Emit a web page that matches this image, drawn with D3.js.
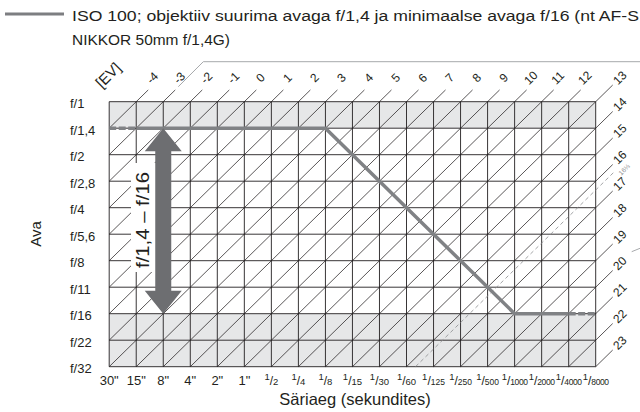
<!DOCTYPE html>
<html><head><meta charset="utf-8">
<script src="https://cdn.jsdelivr.net/npm/d3@7"></script>
<style>
html,body{margin:0;padding:0;background:#fff;}
svg{display:block;}
text{font-family:"Liberation Sans",Arial,sans-serif;fill:#231f20;}
</style></head>
<body>
<svg id="chart" width="640" height="412"></svg>
<script>
// ---- data ----
const shutterLabels = ['30"','15"','8"','4"','2"','1"','1/2','1/4','1/8','1/15','1/30','1/60','1/125','1/250','1/500','1/1000','1/2000','1/4000','1/8000'];
const apertureLabels = ['f/1','f/1,4','f/2','f/2,8','f/4','f/5,6','f/8','f/11','f/16','f/22','f/32'];
const evValues = [-4,-3,-2,-1,0,1,2,3,4,5,6,7,8,9,10,11,12,13,14,15,16,17,18,19,20,21,22,23];
const evOffsetAtOrigin = -5; // EV at 30" / f/1
const seriesShutter = ['15"','1/8','1/1000','1/4000'];
const seriesAperture = ['f/1,4','f/1,4','f/16','f/16'];
const dashedStartShutter = ['30"','15"'];
const dashedStartAperture = ['f/1,4','f/1,4'];
const dashedEndShutter = ['1/4000','1/8000'];
const dashedEndAperture = ['f/16','f/16'];
const shadedBands = [['f/1','f/1,4'],['f/16','f/32']];
const limitEV = 16 + 1/3;
const limitLabel = '16⅓';
const arrowShutter = '8"';
const arrowApertures = ['f/1,4','f/16'];
const rangeLabel = 'f/1,4 – f/16';
const legendLines = ['ISO 100; objektiiv suurima avaga f/1,4 ja minimaalse avaga f/16 (nt AF-S','NIKKOR 50mm f/1,4G)'];
const xTitle = 'Säriaeg (sekundites)';
const yTitle = 'Ava';
const evTitle = '[EV]';

(function(){
const svg = d3.select('#chart');
const defs = svg.append('defs');
const gL = 109.2, gR = 595.7, gT = 101.7, gB = 366.7;
const x = d3.scalePoint().domain(shutterLabels).range([gL, gR]);
const y = d3.scalePoint().domain(apertureLabels).range([gT, gB]);
const xi = d3.scaleLinear().domain([0, shutterLabels.length-1]).range([gL, gR]);
const yi = d3.scaleLinear().domain([0, apertureLabels.length-1]).range([gT, gB]);
const nC = shutterLabels.length-1, nR = apertureLabels.length-1;
const slope = (y.step())/(x.step());
let pid = 0;
// label drawn along a short 45-degree path centred on (cx,cy)
function rotLabel(cx, cy, txt, size, color){
  const id = 'lp' + (pid++);
  const L = 40, d = L/Math.SQRT2/2;
  const off = size*0.36, ox = off/Math.SQRT2, oy = off/Math.SQRT2;
  defs.append('path').attr('id',id)
    .attr('d',`M${cx-d+ox},${cy+d+oy} L${cx+d+ox},${cy-d+oy}`);
  const t = svg.append('text').attr('font-size',size);
  if(color) t.style('fill',color);
  t.append('textPath').attr('href','#'+id).attr('startOffset','50%')
    .attr('text-anchor','middle').text(txt);
  return t;
}

// legend
svg.append('line').attr('x1',5).attr('x2',64).attr('y1',14).attr('y2',14)
  .attr('stroke','#7d7e81').attr('stroke-width',3);
svg.selectAll('text.leg').data(legendLines).join('text').attr('class','leg')
  .attr('x',72).attr('y',(d,i)=>21+i*24)
  .attr('font-size',15.5)
  .attr('textLength',(d,i)=> i===0?567:158).attr('lengthAdjust','spacingAndGlyphs')
  .style('font-family','"Liberation Sans Narrow", "Liberation Sans", sans-serif')
  .text(d=>d);

// bracket line at top
svg.append('path').attr('d',`M178.3,86.7 L203.3,61.7 L640,61.7`)
  .attr('fill','none').attr('stroke','#a7a9ac').attr('stroke-width',1);
svg.append('line').attr('x1',631.7).attr('y1',251.7).attr('x2',640).attr('y2',248.3)
  .attr('stroke','#a7a9ac').attr('stroke-width',1);

// shaded bands
svg.selectAll('rect.band').data(shadedBands).join('rect').attr('class','band')
  .attr('x',gL).attr('width',gR-gL)
  .attr('y',d=>y(d[0])).attr('height',d=>y(d[1])-y(d[0]))
  .attr('fill','#e6e7e8');

// grid
const g = svg.append('g').attr('stroke','#231f20').attr('stroke-width',0.9);
g.selectAll('line.v').data(shutterLabels).join('line').attr('class','v')
  .attr('x1',d=>x(d)).attr('x2',d=>x(d)).attr('y1',gT).attr('y2',gB);
g.selectAll('line.h').data(apertureLabels).join('line').attr('class','h')
  .attr('y1',d=>y(d)).attr('y2',d=>y(d)).attr('x1',gL).attr('x2',gR);

// EV diagonals
function evGeom(e){
  const s = e - evOffsetAtOrigin;
  const r1 = Math.min(nR, s), c1 = s - r1;
  const c2 = Math.min(nC, s), r2 = s - c2;
  const onRight = c2 >= nC;
  const ext = onRight ? 17 : 12;
  const x1 = xi(c1), y1 = yi(r1), x2 = xi(c2), y2 = yi(r2);
  return {x1,y1,x2,y2,ex:x2+ext,ey:y2-ext*slope,onRight};
}
const dg = svg.append('g').attr('stroke','#231f20').attr('stroke-width',0.75);
evValues.forEach(e=>{
  const p = evGeom(e);
  dg.append('line').attr('x1',p.x1).attr('y1',p.y1).attr('x2',p.ex).attr('y2',p.ey);
  rotLabel(p.x2 + (p.onRight?24:16), p.y2 - 24, String(e), 12);
});
// EV title
rotLabel(108, 75, evTitle, 15);

// limit EV dashed line
{
  const s = limitEV - evOffsetAtOrigin;
  const r1 = nR, c1 = s - r1, c2 = nC, r2 = s - c2;
  const x2 = xi(c2), y2 = yi(r2);
  svg.append('line').attr('x1',xi(c1)).attr('y1',yi(r1)).attr('x2',x2+18).attr('y2',y2-18*slope)
    .attr('stroke','#8a8c8e').attr('stroke-width',0.8).attr('stroke-dasharray','4,3');
  rotLabel(x2+28.5, y2-20.5, limitLabel, 6.5, '#8a8c8e');
}

// y labels
svg.selectAll('text.ylab').data(apertureLabels).join('text').attr('class','ylab')
  .attr('x',70).attr('y',d=>y(d)+6.5).attr('font-size',13).text(d=>d);

// x labels
const xl = svg.selectAll('text.xlab').data(shutterLabels).join('text').attr('class','xlab')
  .attr('x',d=>x(d)).attr('y',384.5).attr('text-anchor','middle').attr('font-size',13);
xl.each(function(d){
  const t = d3.select(this);
  if(d.indexOf('/')<0){ t.text(d); return; }
  const [num,den] = d.split('/');
  t.append('tspan').attr('font-size',9.5).attr('dy',-4.5).text(num);
  t.append('tspan').attr('font-size',12).attr('dy',4.5).text('/');
  t.append('tspan').attr('font-size',den.length>=3?8.5:9.5).attr('dy',0.5)
    .attr('letter-spacing',den.length>=4?-0.4:0).text(den);
});

// axis titles
svg.append('text').attr('x',355).attr('y',405).attr('text-anchor','middle')
  .attr('font-size',16.5).text(xTitle);
svg.append('text').attr('transform','translate(41,234) rotate(-90)').attr('text-anchor','middle')
  .attr('font-size',15).text(yTitle);

// range label with white background
svg.append('rect').attr('x',131).attr('y',163).attr('width',25).attr('height',109).attr('fill','#fff');
svg.append('text').attr('transform','translate(149,220) rotate(-90)').attr('text-anchor','middle')
  .attr('font-size',19).attr('textLength',96).attr('lengthAdjust','spacingAndGlyphs').text(rangeLabel);

// series line
const line = d3.line().x(d=>x(d[0])).y(d=>y(d[1]));
svg.append('path').attr('d',line(seriesShutter.map((s,i)=>[s,seriesAperture[i]])))
  .attr('fill','none').attr('stroke','#808285').attr('stroke-width',3.5).attr('stroke-linejoin','miter');
[[dashedStartShutter,dashedStartAperture],[dashedEndShutter,dashedEndAperture]].forEach(([ss,aa])=>{
  svg.append('path').attr('d',line(ss.map((s,i)=>[s,aa[i]])))
    .attr('fill','none').attr('stroke','#808285').attr('stroke-width',3.5).attr('stroke-dasharray','7,2.5');
});

// double arrow
{
  const ax = x(arrowShutter), yt = y(arrowApertures[0]), yb = y(arrowApertures[1]);
  const sw = 8, hw = 18.5, hh = 23;
  const pts = [[ax,yt],[ax+hw,yt+hh],[ax+sw,yt+hh],[ax+sw,yb-hh],[ax+hw,yb-hh],[ax,yb],
               [ax-hw,yb-hh],[ax-sw,yb-hh],[ax-sw,yt+hh],[ax-hw,yt+hh]];
  svg.append('path').attr('d','M'+pts.map(p=>p.join(',')).join('L')+'Z').attr('fill','#6d6e71');
}
})();
</script>
</body></html>
